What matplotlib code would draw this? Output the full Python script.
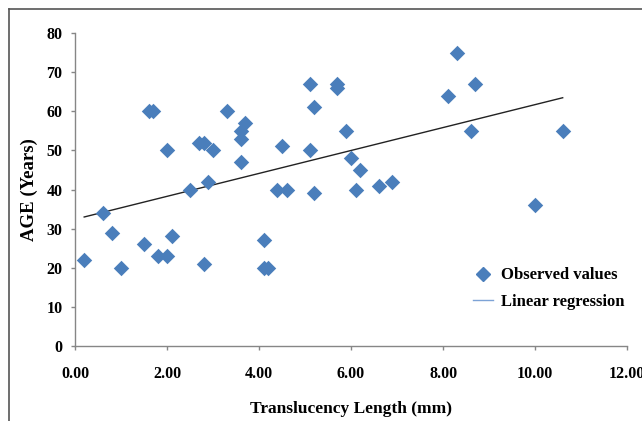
import numpy as np
import matplotlib
matplotlib.use("Agg")
import matplotlib.pyplot as plt
from matplotlib.lines import Line2D

# translucency length (mm) vs age (years)
length_mm = [0.2, 0.6, 0.8, 1.0, 1.5, 1.6, 1.7, 1.8, 2.0, 2.0, 2.1, 2.5,
             2.7, 2.8, 2.8, 2.9, 3.0, 3.3, 3.6, 3.6, 3.6, 3.7, 4.1, 4.1,
             4.2, 4.4, 4.5, 4.6, 5.1, 5.1, 5.2, 5.2, 5.7, 5.7, 5.9, 6.0,
             6.1, 6.2, 6.6, 6.9, 8.1, 8.3, 8.6, 8.7, 10.0, 10.6]
age_years = [22, 34, 29, 20, 26, 60, 60, 23, 23, 50, 28, 40,
             52, 52, 21, 42, 50, 60, 47, 53, 55, 57, 27, 20,
             20, 40, 51, 40, 67, 50, 61, 39, 67, 66, 55, 48,
             40, 45, 41, 42, 64, 75, 55, 67, 36, 55]

# regression line as drawn (slope, intercept)
fit_slope = 2.93
fit_intercept = 32.4

x_ticks = [0, 2, 4, 6, 8, 10, 12]
y_ticks = [0, 10, 20, 30, 40, 50, 60, 70, 80]

blue = "#4A7EBB"
axis_grey = "#868686"
serif = ["Liberation Serif", "DejaVu Serif"]

fig = plt.figure(figsize=(6.42, 4.21), dpi=100)
ax = fig.add_axes([0.1168, 0.178, 0.86, 0.7436])

ax.scatter(length_mm, age_years, marker="D", s=62, color=blue, linewidths=0, zorder=3)

fx = np.array([min(length_mm), max(length_mm)])
ax.plot(fx, fit_slope * fx + fit_intercept, color="#222222", lw=1.0, zorder=2)

ax.set_xlim(0, 12)
ax.set_ylim(0, 80)
ax.set_xticks(x_ticks)
ax.set_yticks(y_ticks)
ax.set_xticklabels(["%.2f" % t for t in x_ticks])
ax.set_yticklabels([str(t) for t in y_ticks])

for s in ["top", "right"]:
    ax.spines[s].set_visible(False)
for s in ["left", "bottom"]:
    ax.spines[s].set_color(axis_grey)
    ax.spines[s].set_linewidth(1.0)
ax.tick_params(direction="out", length=3, width=1, color=axis_grey)
ax.tick_params(axis="y", pad=6)
ax.tick_params(axis="x", pad=11)

for lab in ax.get_xticklabels() + ax.get_yticklabels():
    lab.set_family(serif)
    lab.set_fontweight("bold")
    lab.set_fontsize(11.5)

ax.set_xlabel("Translucency Length (mm)", family=serif, fontweight="bold", fontsize=12.5, labelpad=14)
ax.set_ylabel("AGE (Years)", family=serif, fontweight="bold", fontsize=13.5, labelpad=6)

handles = [
    Line2D([], [], marker="D", ls="none", color=blue, markersize=7),
    Line2D([], [], color="#7DA3D6", lw=1.0),
]
ax.legend(handles, ["Observed values", "Linear regression"], loc="upper left",
          bbox_to_anchor=(0.705, 0.278), frameon=False, borderpad=0,
          handlelength=1.2, handletextpad=0.5, labelspacing=0.65,
          prop={"family": serif, "weight": "bold", "size": 12})

# outer frame, only top and left visible in the crop
fig.add_artist(Line2D([9 / 642, 1], [1 - 9 / 421, 1 - 9 / 421], color="#555555", lw=1.2,
                      transform=fig.transFigure))
fig.add_artist(Line2D([9 / 642, 9 / 642], [0, 1 - 9 / 421], color="#555555", lw=1.2,
                      transform=fig.transFigure))

fig.savefig("out.png", dpi=100)
